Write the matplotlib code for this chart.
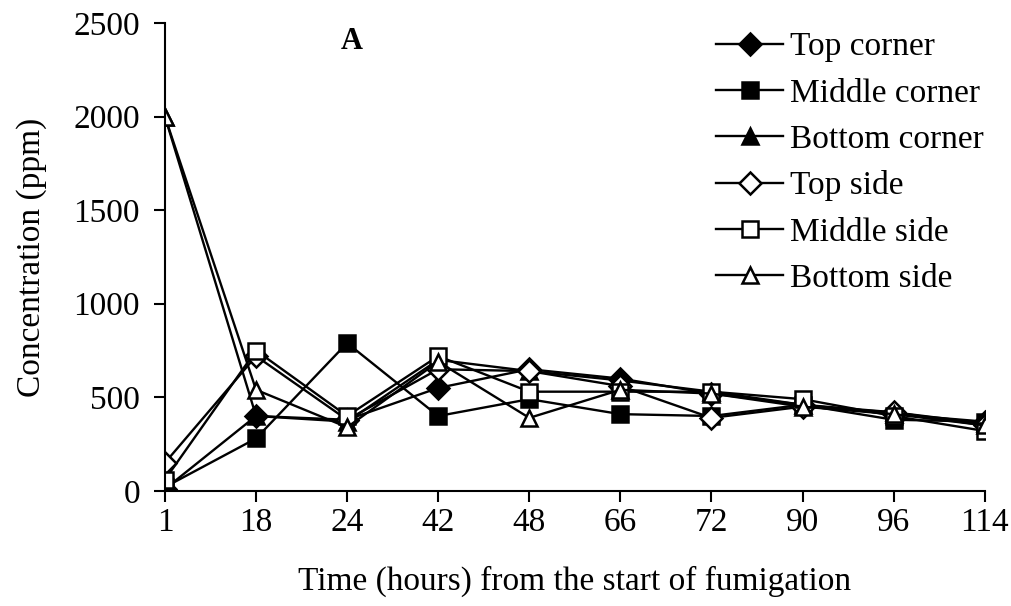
import matplotlib.pyplot as plt
import numpy as np

plt.rcParams['font.family'] = ['Liberation Serif', 'DejaVu Serif']

hours = ['1', '18', '24', '42', '48', '66', '72', '90', '96', '114']

top_corner = [10, 400, 380, 550, 650, 600, 520, 460, 410, 370]
middle_corner = [20, 280, 790, 400, 490, 410, 400, 460, 380, 370]
bottom_corner = [2000, 400, 370, 700, 640, 590, 530, 460, 420, 360]
top_side = [150, 720, 380, 650, 640, 560, 390, 450, 420, 350]
middle_side = [60, 750, 400, 720, 530, 530, 530, 490, 400, 320]
bottom_side = [2000, 540, 340, 690, 390, 540, 520, 450, 410, 350]

fig = plt.figure(figsize=(10.12, 6.06), dpi=100)
ax = fig.add_axes([0.163, 0.19, 0.81, 0.772])

x = np.arange(len(hours))
kw = dict(color='black', linewidth=1.7, markersize=11, markeredgewidth=1.8)
ax.plot(x, top_corner, marker='D', markerfacecolor='black', label='Top corner', **kw)
ax.plot(x, middle_corner, marker='s', markerfacecolor='black', label='Middle corner', **kw)
ax.plot(x, bottom_corner, marker='^', markerfacecolor='black', label='Bottom corner', **kw)
ax.plot(x, top_side, marker='D', markerfacecolor='white', label='Top side', **kw)
ax.plot(x, middle_side, marker='s', markerfacecolor='white', label='Middle side', **kw)
ax.plot(x, bottom_side, marker='^', markerfacecolor='white', label='Bottom side', **kw)

ax.set_xlim(0, len(hours) - 1)
ax.set_ylim(0, 2500)
ax.set_xticks(x)
ax.set_xticklabels(hours)
ax.set_yticks([0, 500, 1000, 1500, 2000, 2500])
ax.spines['top'].set_visible(False)
ax.spines['right'].set_visible(False)
for s in ['left', 'bottom']:
    ax.spines[s].set_linewidth(1.5)
ax.tick_params(labelsize=24, length=8, width=1.5, direction='out')
ax.tick_params(axis='x', pad=4)
ax.tick_params(axis='y', pad=10)

ax.set_xlabel('Time (hours) from the start of fumigation', fontsize=24, labelpad=20)
ax.set_ylabel('Concentration (ppm)', fontsize=24, labelpad=19)
ax.text(2.05, 2400, 'A', fontsize=22, fontweight='bold', ha='center', va='center')

ax.legend(loc='upper right', bbox_to_anchor=(1.035, 1.045), frameon=False,
          fontsize=24, handlelength=2.0, handletextpad=0.2, labelspacing=0.47)

fig.savefig('out.png', dpi=100)
